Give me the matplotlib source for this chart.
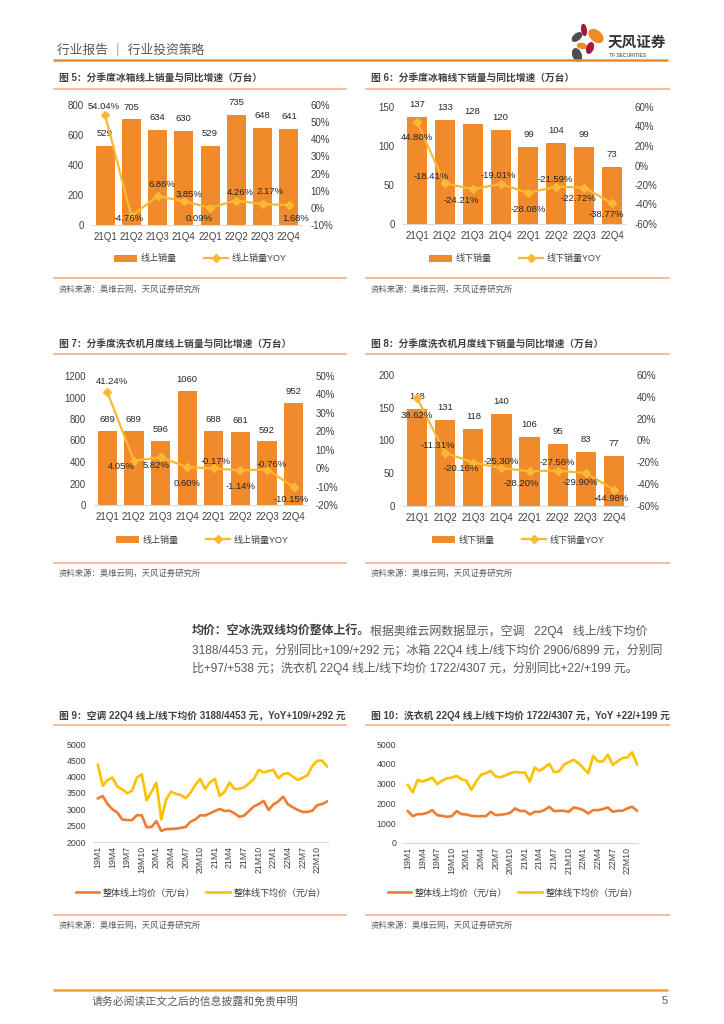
import matplotlib
matplotlib.use('Agg')
import numpy as np
import matplotlib.pyplot as plt
from matplotlib.patches import Ellipse, Patch
from matplotlib.lines import Line2D

plt.rcParams['font.family'] = ['Liberation Sans', 'Noto Sans CJK SC', 'DejaVu Sans']
plt.rcParams['axes.unicode_minus'] = False

# ---------------- data ----------------
quarters = ['21Q1', '21Q2', '21Q3', '21Q4', '22Q1', '22Q2', '22Q3', '22Q4']

fridge_online = [529, 705, 634, 630, 529, 735, 648, 641]
fridge_online_yoy = [54.04, -4.76, 6.86, 3.85, 0.09, 4.26, 2.17, 1.68]

fridge_offline = [137, 133, 128, 120, 99, 104, 99, 73]
fridge_offline_yoy = [44.80, -18.41, -24.21, -19.01, -28.08, -21.59, -22.72, -38.77]

washer_online = [689, 689, 596, 1060, 688, 681, 592, 952]
washer_online_yoy = [41.24, 4.05, 5.82, 0.60, -0.17, -1.14, -0.76, -10.15]

washer_offline = [148, 131, 118, 140, 106, 95, 83, 77]
washer_offline_yoy = [38.62, -11.31, -20.16, -25.30, -28.20, -27.56, -29.90, -44.98]

month_ticks = ['19M1', '19M4', '19M7', '19M10', '20M1', '20M4', '20M7', '20M10',
               '21M1', '21M4', '21M7', '21M10', '22M1', '22M4', '22M7', '22M10']

ac_online_price = [3336, 3410, 3160, 3000, 2900, 2690, 2670, 2670, 2820, 2815, 2450, 2460,
                   2640, 2340, 2395, 2400, 2410, 2430, 2460, 2620, 2690, 2820, 2810, 2880,
                   2950, 3010, 2950, 2960, 2880, 2770, 2810, 2950, 3090, 3160, 3260, 2980,
                   3150, 3240, 3390, 3150, 3060, 2980, 2920, 2920, 2960, 3130, 3160, 3240]
ac_offline_price = [4360, 3720, 3900, 3970, 3690, 3610, 3490, 3570, 3970, 4070, 3280, 3540,
                    3815, 2690, 3300, 3540, 3470, 3440, 3340, 3510, 3750, 3930, 3620, 3830,
                    3930, 3410, 3540, 3820, 3620, 3630, 3670, 3800, 3930, 4210, 4130, 4170,
                    4210, 3950, 4075, 4110, 4000, 3900, 3970, 4040, 4330, 4490, 4490, 4310]

wm_online_price = [1610, 1356, 1458, 1458, 1525, 1660, 1407, 1373, 1322, 1356, 1610, 1458,
                   1440, 1373, 1356, 1356, 1356, 1576, 1407, 1424, 1458, 1525, 1746, 1610,
                   1627, 1440, 1576, 1576, 1660, 1830, 1610, 1627, 1627, 1576, 1797, 1746,
                   1660, 1490, 1660, 1660, 1712, 1797, 1576, 1627, 1627, 1746, 1830, 1627]
wm_offline_price = [2930, 2560, 3190, 3100, 3190, 3300, 2970, 3140, 3270, 3300, 3390, 3220,
                    3150, 2680, 3100, 3440, 3525, 3640, 3360, 3320, 3410, 3525, 3580, 3560,
                    3560, 3100, 3810, 3640, 3810, 4000, 3580, 3610, 3950, 4085, 4200, 4030,
                    3780, 3525, 4400, 4120, 4120, 4460, 3950, 4120, 4290, 4320, 4580, 3980]

# ---------------- style ----------------
W, H = 724, 1024
BAR_C = '#F08A2B'
YOY_C = '#F9B934'
ORANGE_LINE = '#EE7D31'
YELLOW_LINE = '#FFC000'
RULE_C = '#F4B183'
TXT = '#404040'
GREY = '#595959'
LBL = 6.8

fig = plt.figure(figsize=(W / 100, H / 100), dpi=100)


def px_axes(x0, y0, x1, y1):
    return fig.add_axes([x0 / W, 1 - y1 / H, (x1 - x0) / W, (y1 - y0) / H])


def ftext(x, y, s, **kw):
    return fig.text(x / W, 1 - y / H, s, **kw)


def hline(x0, x1, y, color, lw):
    fig.add_artist(Line2D([x0 / W, x1 / W], [1 - y / H, 1 - y / H], color=color, lw=lw,
                          solid_capstyle='butt'))


def panel(x0, x1, title, ytitle, yrule, ybottom, ysource):
    ftext(x0 + 6, ytitle, title, fontsize=7, fontweight='bold', color=TXT, va='center')
    hline(x0, x1, yrule, RULE_C, 1.2)
    hline(x0, x1, ybottom, RULE_C, 1.2)
    ftext(x0 + 6, ysource, '资料来源：奥维云网，天风证券研究所', fontsize=6, color=GREY, va='center')


def bar_chart(box, bars, yoy, ylim, yticks, y2lim, y2ticks, bar_name, line_name,
              offsets, bar_off, legend_xy):
    ax = px_axes(*box)
    x = np.arange(len(quarters))
    ax.bar(x, bars, width=0.72, color=BAR_C, zorder=2)
    ax.set_xlim(-0.5, len(quarters) - 0.5)
    ax.set_ylim(*ylim)
    ax.set_yticks(yticks)
    ax.set_yticklabels([str(v) for v in yticks])
    ax.set_xticks(x)
    ax.set_xticklabels(quarters)
    ax.tick_params(length=0, labelsize=7, colors=TXT, pad=6)
    ax.tick_params(axis='x', pad=5)
    for s in ['top', 'right', 'left']:
        ax.spines[s].set_visible(False)
    ax.spines['bottom'].set_color('#D9D9D9')
    for i, v in enumerate(bars):
        ax.annotate(str(v), (i, v), xytext=(0, bar_off), textcoords='offset points',
                    ha='center', va='center', fontsize=LBL, color='#262626')
    ax2 = ax.twinx()
    ax2.plot(x, yoy, color=YOY_C, lw=1.6, marker='D', markersize=4, zorder=3)
    ax2.set_ylim(*y2lim)
    ax2.set_yticks(y2ticks)
    ax2.set_yticklabels([f'{v}%' for v in y2ticks])
    ax2.tick_params(length=0, labelsize=7, colors=TXT, pad=6)
    for s in ['top', 'right', 'left', 'bottom']:
        ax2.spines[s].set_visible(False)
    for i, v in enumerate(yoy):
        dx, dy = offsets[i]
        ax2.annotate(f'{v:.2f}%', (i, v), xytext=(dx, dy), textcoords='offset points',
                     ha='center', va='center', fontsize=LBL, color='#262626', zorder=5)
    handles = [Patch(facecolor=BAR_C, edgecolor='none'),
               Line2D([], [], color=YOY_C, lw=1.6, marker='D', markersize=4)]
    fig.legend(handles, [bar_name, line_name], loc='center',
               bbox_to_anchor=(legend_xy[0] / W, 1 - legend_xy[1] / H), ncol=2,
               frameon=False, fontsize=6.5, handlelength=2.6, handleheight=0.7,
               columnspacing=3.0, handletextpad=0.4, labelcolor=TXT)


def line_chart(box, s1, s2, ylim, yticks, legend_xy):
    ax = px_axes(*box)
    x = np.arange(len(s1))
    ax.plot(x, s1, color=ORANGE_LINE, lw=1.9)
    ax.plot(x, s2, color=YELLOW_LINE, lw=1.9)
    ax.set_xlim(-1.0, len(s1) - 0.8)
    ax.set_ylim(*ylim)
    ax.set_yticks(yticks)
    ax.set_yticklabels([str(v) for v in yticks])
    ax.set_xticks(np.arange(len(month_ticks)) * 3)
    ax.set_xticklabels(month_ticks, rotation=90)
    ax.tick_params(length=0, labelsize=6.3, colors=TXT, pad=5)
    ax.tick_params(axis='x', pad=3)
    for s in ['top', 'right', 'left']:
        ax.spines[s].set_visible(False)
    ax.spines['bottom'].set_color('#D9D9D9')
    handles = [Line2D([], [], color=ORANGE_LINE, lw=1.9),
               Line2D([], [], color=YELLOW_LINE, lw=1.9)]
    fig.legend(handles, ['整体线上均价（元/台）', '整体线下均价（元/台）'], loc='center',
               bbox_to_anchor=(legend_xy[0] / W, 1 - legend_xy[1] / H), ncol=2,
               frameon=False, fontsize=6.5, handlelength=2.6, columnspacing=1.2,
               handletextpad=0.4, labelcolor=TXT)


# ---------------- header ----------------
ftext(57, 50, '行业报告 ｜ 行业投资策略', fontsize=9.2, color=GREY, va='center')
hline(53, 668, 60, '#F08A24', 1.8)
logo = px_axes(566, 20, 610, 64)
logo.set_xlim(566, 610)
logo.set_ylim(64, 20)
logo.axis('off')
for (cx, cy, w, h, a, c) in [(584, 30, 4.5, 11, -8, '#A6193A'),
                             (596, 36, 10, 16, -50, '#F08A24'),
                             (577, 37, 6, 11, 50, '#4D4D4D'),
                             (582, 46, 9, 5, 10, '#F08A24'),
                             (590, 48, 6, 11, 20, '#A6193A'),
                             (577, 55, 8, 13, -20, '#4D4D4D')]:
    logo.add_patch(Ellipse((cx, cy), w, h, angle=a, color=c))
ftext(608, 43, '天风证券', fontsize=10.5, fontweight='bold', color='#333333', va='center')
ftext(609, 55.5, 'TF SECURITIES', fontsize=3.6, color='#333333', va='center')

# ---------------- panels ----------------
panel(53, 347, '图 5：分季度冰箱线上销量与同比增速（万台）', 78, 89, 278, 290)
panel(365, 670, '图 6：分季度冰箱线下销量与同比增速（万台）', 78, 89, 278, 290)
panel(53, 347, '图 7：分季度洗衣机月度线上销量与同比增速（万台）', 344, 354, 563, 574)
panel(365, 670, '图 8：分季度洗衣机月度线下销量与同比增速（万台）', 344, 354, 563, 574)
panel(53, 347, '图 9：空调 22Q4 线上/线下均价 3188/4453 元，YoY+109/+292 元', 716, 725, 915, 926)
panel(365, 670, '图 10：洗衣机 22Q4 线上/线下均价 1722/4307 元，YoY +22/+199 元', 716, 725, 915, 926)

bar_chart((92, 105, 302, 225), fridge_online, fridge_online_yoy, (0, 800), [0, 200, 400, 600, 800],
          (-10, 60), [-10, 0, 10, 20, 30, 40, 50, 60], '线上销量', '线上销量YOY',
          [(-1, 6), (-2, -2), (3, 8), (4, 5), (-8, -8), (3, 6), (5, 9), (5, -10)], 8.6, (200, 259))
bar_chart((403, 107, 626, 224), fridge_offline, fridge_offline_yoy, (0, 150), [0, 50, 100, 150],
          (-60, 60), [-60, -40, -20, 0, 20, 40, 60], '线下销量', '线下销量YOY',
          [(0, -11), (-10, 5), (-8, -8), (-2, 6.5), (0, -12), (-1, 5), (-4, -8), (-4, -8)], 9, (515, 259))
bar_chart((94, 376, 307, 505), washer_online, washer_online_yoy, (0, 1200), [0, 200, 400, 600, 800, 1000, 1200],
          (-20, 50), [-20, -10, 0, 10, 20, 30, 40, 50], '线上销量', '线上销量YOY',
          [(3, 7.5), (-9, -4), (-3, -5.5), (0, -12), (1, 5), (0, -11.5), (3, 3.5), (-2, -9)], 8, (202, 540))
bar_chart((403, 375, 628, 506), washer_offline, washer_offline_yoy, (0, 200), [0, 50, 100, 150, 200],
          (-60, 60), [-60, -40, -20, 0, 20, 40, 60], '线下销量', '线下销量YOY',
          [(0, -12), (-5.5, 5.5), (-9, -4), (0, 4.5), (-6, -9), (0, 6), (-4, -7), (-2, -6.5)], 8.9, (518, 540))

line_chart((93, 744, 328, 842), ac_online_price, ac_offline_price, (2000, 5000),
           [2000, 2500, 3000, 3500, 4000, 4500, 5000], (201, 893))
line_chart((403, 744, 638, 843), wm_online_price, wm_offline_price, (0, 5000),
           [0, 1000, 2000, 3000, 4000, 5000], (513, 893))

# ---------------- paragraph ----------------
PF = 8.6
fig.canvas.draw()
r = fig.canvas.get_renderer()
t1 = ftext(192, 631, '均价：空冰洗双线均价整体上行。', fontsize=PF, fontweight='bold', color=TXT, va='center')
bb = t1.get_window_extent(renderer=r)
ftext(192 + bb.width, 631, '根据奥维云网数据显示，空调   22Q4   线上/线下均价', fontsize=PF, color=GREY,
      va='center')
ftext(192, 650, '3188/4453 元，分别同比+109/+292 元；冰箱 22Q4 线上/线下均价 2906/6899 元，分别同',
      fontsize=PF, color=GREY, va='center')
ftext(192, 668, '比+97/+538 元；洗衣机 22Q4 线上/线下均价 1722/4307 元，分别同比+22/+199 元。',
      fontsize=PF, color=GREY, va='center')

# ---------------- footer ----------------
hline(53, 668, 990, '#F0A030', 1.8)
ftext(92, 1001, '请务必阅读正文之后的信息披露和免责申明', fontsize=7.8, color=GREY, va='center')
ftext(662, 1001, '5', fontsize=8, color=GREY, va='center')

fig.savefig('out.png', dpi=100)
